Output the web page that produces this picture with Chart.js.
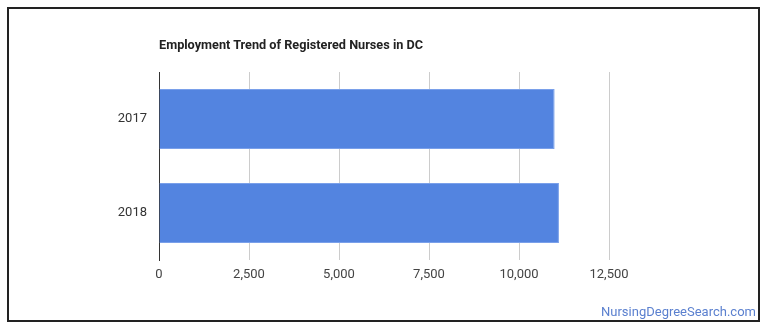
<!DOCTYPE html>
<html>
<head>
<meta charset="utf-8">
<script src="https://cdn.jsdelivr.net/npm/chart.js@4/dist/chart.umd.min.js"></script>
<style>
  body { margin: 0; background: #fff; font-family: Roboto, sans-serif; }
  #wrap { position: relative; width: 770px; height: 335px; }
  #frame { position: absolute; left: 7px; top: 7px; width: 749px; height: 311px; border: 2px solid #222; }
  #titulo { position: absolute; left: 159px; top: 37px; font-size: 12.7px; font-weight: bold; color: #222; }
  #marca { position: absolute; right: 14px; top: 304px; font-size: 13px; color: #5b80cf; }
  canvas { position: absolute; left: 0; top: 0; }
</style>
</head>
<body>
<div id="wrap">
  <div id="frame"></div>
  <canvas id="grafico" width="770" height="335"></canvas>
  <div id="titulo">Employment Trend of Registered Nurses in DC</div>
  <div id="marca">NursingDegreeSearch.com</div>
</div>
<script>
// dados
const anos = ['2017', '2018'];
const empregos = [10990, 11110];
const ticksX = [0, 2500, 5000, 7500, 10000, 12500];

const ctx = document.getElementById('grafico');
new Chart(ctx, {
  type: 'bar',
  data: {
    labels: anos,
    datasets: [{
      data: empregos,
      backgroundColor: '#5384e0',
      borderColor: '#7aa0ea',
      borderWidth: 1,
      barPercentage: 0.64,
      categoryPercentage: 1
    }]
  },
  options: {
    indexAxis: 'y',
    responsive: false,
    animation: false,
    layout: { padding: { left: 0, right: 161, top: 72, bottom: 45 } },
    plugins: { legend: { display: false }, tooltip: { enabled: false } },
    scales: {
      x: {
        min: 0,
        max: 12500,
        afterBuildTicks: (scale) => { scale.ticks = ticksX.map(v => ({ value: v })); },
        afterFit: (scale) => { scale.height = 30; },
        grid: { color: '#cccccc', drawTicks: false },
        border: { display: false },
        ticks: {
          padding: 7,
          color: '#444',
          font: { family: 'Roboto', size: 13 },
          callback: (value) => value.toLocaleString('en-US')
        }
      },
      y: {
        afterFit: (scale) => { scale.width = 159; },
        grid: { display: false, drawTicks: false },
        border: { display: true, color: '#333', width: 1 },
        ticks: {
          padding: 12,
          color: '#333',
          font: { family: 'Roboto', size: 13 }
        }
      }
    }
  }
});
</script>
</body>
</html>
